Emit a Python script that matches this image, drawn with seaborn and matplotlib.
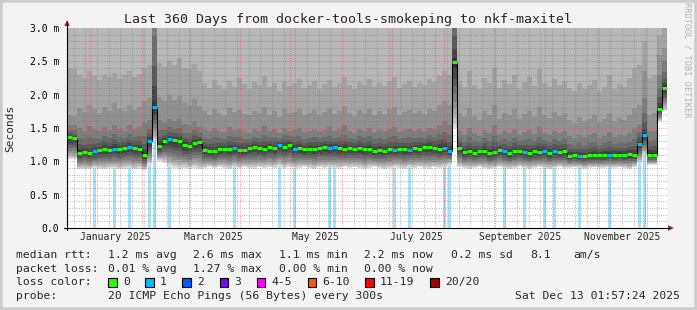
import numpy as np
import pandas as pd
import matplotlib
matplotlib.use("Agg")
import matplotlib.pyplot as plt
import seaborn as sns
from matplotlib.patches import Rectangle, Polygon
from matplotlib.lines import Line2D

# ---------------- data (3-day bins, 360 days ending Sat Dec 13 01:57:24 2025) ----------------
period_end = "2025-12-13 01:57:24"
period_days = 360
bin_days = 3

median_rtt = [
    1.36, 1.35, 1.13, 1.14, 1.12, 1.15, 1.17, 1.18, 1.17, 1.19,
    1.18, 1.20, 1.21, 1.20, 1.19, 1.09, 1.30, 1.81, 1.23, 1.30,
    1.33, 1.32, 1.30, 1.24, 1.23, 1.28, 1.29, 1.17, 1.16, 1.15,
    1.18, 1.19, 1.18, 1.20, 1.17, 1.17, 1.20, 1.21, 1.20, 1.19,
    1.22, 1.20, 1.24, 1.22, 1.25, 1.19, 1.20, 1.18, 1.19, 1.18,
    1.20, 1.21, 1.20, 1.21, 1.20, 1.19, 1.20, 1.19, 1.20, 1.18,
    1.19, 1.16, 1.17, 1.16, 1.18, 1.17, 1.19, 1.18, 1.17, 1.20,
    1.19, 1.21, 1.22, 1.20, 1.19, 1.20, 1.16, 2.49, 1.20, 1.14,
    1.16, 1.13, 1.15, 1.16, 1.13, 1.14, 1.17, 1.15, 1.13, 1.15,
    1.16, 1.14, 1.13, 1.15, 1.14, 1.16, 1.13, 1.15, 1.14, 1.15,
    1.08, 1.10, 1.08, 1.08, 1.09, 1.09, 1.09, 1.10, 1.10, 1.10,
    1.10, 1.10, 1.11, 1.10, 1.26, 1.39, 1.10, 1.10, 1.78, 2.10,
]

# lowest ping of each bin
ping_min = [
    1.03, 1.03, 0.88, 0.89, 0.88, 0.90, 0.89, 0.88, 0.90, 0.89,
    0.88, 0.89, 0.90, 0.88, 0.89, 0.87, 0.95, 1.30, 1.00, 0.98,
    0.92, 0.90, 0.89, 0.90, 0.89, 0.90, 0.88, 0.90, 0.91, 0.90,
    0.91, 0.90, 0.89, 0.91, 0.90, 0.91, 0.90, 0.89, 0.91, 0.90,
    0.91, 0.90, 0.92, 0.90, 0.91, 0.89, 0.90, 0.91, 0.90, 0.89,
    0.91, 0.90, 0.91, 0.90, 0.89, 0.91, 0.90, 0.91, 0.90, 0.89,
    0.90, 0.91, 0.90, 0.89, 0.90, 0.91, 0.90, 0.89, 0.91, 0.90,
    0.91, 0.90, 0.89, 0.91, 0.90, 0.92, 0.95, 1.50, 0.92, 0.90,
    0.89, 0.90, 0.91, 0.90, 0.89, 0.90, 0.91, 0.90, 0.89, 0.90,
    0.91, 0.90, 0.89, 0.90, 0.91, 0.90, 0.89, 0.90, 0.91, 0.90,
    0.90, 0.91, 0.90, 0.89, 0.90, 0.91, 0.90, 0.90, 0.91, 0.90,
    0.91, 0.90, 0.89, 0.92, 0.98, 1.10, 0.95, 0.95, 1.60, 1.75,
]

# 15th ping (of 20, sorted)
ping_15 = [
    1.55, 1.54, 1.50, 1.46, 1.53, 1.48, 1.45, 1.52, 1.47, 1.55,
    1.49, 1.46, 1.54, 1.48, 1.51, 1.58, 1.62, 3.60, 1.62, 1.58,
    1.64, 1.60, 1.63, 1.56, 1.55, 1.60, 1.52, 1.48, 1.45, 1.50,
    1.46, 1.44, 1.52, 1.47, 1.49, 1.45, 1.43, 1.48, 1.46, 1.53,
    1.45, 1.48, 1.42, 1.50, 1.46, 1.47, 1.50, 1.44, 1.46, 1.49,
    1.45, 1.47, 1.51, 1.45, 1.48, 1.54, 1.46, 1.43, 1.49, 1.46,
    1.50, 1.44, 1.47, 1.45, 1.49, 1.52, 1.44, 1.47, 1.49, 1.46,
    1.48, 1.45, 1.50, 1.48, 1.55, 1.60, 1.55, 3.60, 1.45, 1.40,
    1.50, 1.42, 1.38, 1.47, 1.43, 1.55, 1.40, 1.45, 1.42, 1.49,
    1.39, 1.44, 1.47, 1.41, 1.52, 1.43, 1.40, 1.46, 1.42, 1.45,
    1.38, 1.35, 1.40, 1.36, 1.39, 1.43, 1.35, 1.38, 1.44, 1.37,
    1.40, 1.38, 1.42, 1.48, 1.55, 1.95, 1.45, 1.46, 2.30, 2.50,
]

# 16th ping
ping_16 = [
    1.70, 1.68, 1.80, 1.74, 1.85, 1.78, 1.72, 1.82, 1.76, 1.88,
    1.79, 1.75, 1.84, 1.77, 1.81, 1.90, 1.95, 4.00, 1.96, 1.90,
    2.00, 1.92, 1.98, 1.88, 1.85, 1.93, 1.83, 1.75, 1.70, 1.78,
    1.72, 1.68, 1.80, 1.74, 1.77, 1.71, 1.69, 1.76, 1.73, 1.82,
    1.70, 1.75, 1.67, 1.79, 1.72, 1.74, 1.78, 1.69, 1.73, 1.77,
    1.70, 1.74, 1.80, 1.71, 1.76, 1.83, 1.72, 1.68, 1.77, 1.73,
    1.79, 1.70, 1.75, 1.71, 1.78, 1.81, 1.69, 1.74, 1.77, 1.72,
    1.75, 1.71, 1.79, 1.76, 1.84, 1.90, 1.85, 4.00, 1.72, 1.66,
    1.80, 1.68, 1.62, 1.75, 1.70, 1.85, 1.64, 1.73, 1.69, 1.78,
    1.63, 1.71, 1.76, 1.67, 1.82, 1.70, 1.65, 1.74, 1.68, 1.72,
    1.62, 1.58, 1.66, 1.60, 1.64, 1.70, 1.59, 1.63, 1.72, 1.61,
    1.65, 1.62, 1.70, 1.80, 1.85, 2.35, 1.70, 1.72, 2.60, 2.70,
]

# 17th ping
ping_17 = [
    2.40, 2.38, 2.30, 2.25, 2.35, 2.28, 2.22, 2.30, 2.26, 2.33,
    2.24, 2.29, 2.36, 2.27, 2.31, 2.40, 2.45, 4.00, 2.48, 2.42,
    2.50, 2.44, 2.55, 2.40, 2.38, 2.46, 2.35, 2.18, 2.10, 2.22,
    2.15, 2.08, 2.20, 2.12, 2.25, 2.16, 2.09, 2.19, 2.14, 2.28,
    2.11, 2.17, 2.06, 2.21, 2.13, 2.18, 2.24, 2.10, 2.15, 2.20,
    2.08, 2.16, 2.22, 2.12, 2.18, 2.27, 2.14, 2.09, 2.19, 2.15,
    2.23, 2.11, 2.17, 2.13, 2.20, 2.26, 2.10, 2.16, 2.21, 2.12,
    2.18, 2.14, 2.24, 2.19, 2.28, 2.35, 2.30, 4.00, 2.20, 2.12,
    2.35, 2.15, 2.08, 2.25, 2.18, 2.40, 2.10, 2.22, 2.16, 2.30,
    2.09, 2.19, 2.26, 2.13, 2.38, 2.17, 2.11, 2.24, 2.15, 2.20,
    2.10, 2.05, 2.18, 2.08, 2.14, 2.22, 2.06, 2.12, 2.30, 2.09,
    2.16, 2.11, 2.25, 2.40, 2.45, 2.80, 2.25, 2.30, 2.90, 3.00,
]

# lost pings per bin (of 20)
lost_pings = [
    0, 0, 0, 0, 0, 1, 0, 0, 0, 1, 0, 0, 1, 0, 0, 0, 1, 1, 0, 0,
    1, 0, 0, 0, 0, 0, 0, 0, 0, 0, 0, 0, 0, 1, 0, 0, 0, 0, 0, 0,
    0, 0, 1, 0, 0, 1, 0, 0, 0, 0, 0, 0, 1, 1, 0, 0, 0, 0, 0, 0,
    0, 0, 0, 0, 0, 1, 0, 0, 1, 0, 0, 0, 0, 0, 0, 1, 1, 0, 0, 0,
    0, 0, 0, 0, 0, 0, 0, 1, 0, 0, 0, 1, 0, 0, 0, 1, 0, 1, 0, 0,
    0, 0, 1, 0, 0, 0, 0, 0, 1, 0, 0, 0, 0, 0, 1, 1, 0, 0, 0, 0,
]

title = "Last 360 Days from docker-tools-smokeping to nkf-maxitel"
y_tick_values = [0.0, 0.5, 1.0, 1.5, 2.0, 2.5, 3.0]
y_tick_labels = ["0.0", "0.5 m", "1.0 m", "1.5 m", "2.0 m", "2.5 m", "3.0 m"]
x_label_months = ["2025-01", "2025-03", "2025-05", "2025-07", "2025-09", "2025-11"]
x_label_texts = ["January 2025", "March 2025", "May 2025", "July 2025",
                 "September 2025", "November 2025"]

stats_rtt = ["median rtt:", "1.2 ms avg", "2.6 ms max", "1.1 ms min",
             "2.2 ms now", "0.2 ms sd", "8.1", "am/s"]
stats_loss = ["packet loss:", "0.01 % avg", "1.27 % max", "0.00 % min", "0.00 % now"]
loss_labels = ["0", "1", "2", "3", "4-5", "6-10", "11-19", "20/20"]
loss_colors = ["#26ff00", "#00b8ff", "#0059ff", "#7e00ff", "#ff00ff", "#ff5500", "#ff0000", "#a10000"]
probe_text = "20 ICMP Echo Pings (56 Bytes) every 300s"
stamp_text = "Sat Dec 13 01:57:24 2025"

# ---------------- styling constants ----------------
W, H = 697, 310
L, R, T, B = 67, 667, 28, 228
YMAX = 3.0
MONO = "DejaVu Sans Mono"

sns.set_style("white")
plt.rcParams["font.family"] = [MONO, "DejaVu Sans"]

n = len(median_rtt)
for arr in (ping_min, ping_15, ping_16, ping_17, lost_pings):
    assert len(arr) == n, len(arr)

med = np.array(median_rtt)
p1 = np.array(ping_min)
lost = np.array(lost_pings)

end_ts = pd.Timestamp(period_end)
start_ts = end_ts - pd.Timedelta(days=period_days)


def day_of(ts):
    return (pd.Timestamp(ts) - start_ts).total_seconds() / 86400.0


edges = np.arange(n + 1) * bin_days
centers = edges[:-1] + bin_days / 2.0


def ext(a):
    return np.append(a, a[-1])


def fx(x):
    return x / W


def fy(y):
    return 1 - y / H


fig = plt.figure(figsize=(W / 100, H / 100), dpi=100, facecolor="#F3F3F3")
ax = fig.add_axes([fx(L), fy(B), (R - L) / W, (B - T) / H])
ax.set_facecolor("white")
ax.set_xlim(0, period_days)
ax.set_ylim(0, YMAX)
for s in ax.spines.values():
    s.set_visible(False)

# loss bars under the smoke
ax.bar(centers[lost > 0], YMAX, width=1.5, color="#a4e2f8", lw=0, zorder=1)

# smoke: SmokePing-like bands, ping k .. ping 21-k
low_frac = [0.06, 0.13, 0.21, 0.30, 0.40, 0.51, 0.63, 0.76, 0.90]   # gradient p2..p10
up_frac = [0.06, 0.18, 0.35, 0.60]                                   # gradient p11..p14
p15 = np.array(ping_15)
pings = {1: p1}
for j, f in zip(range(2, 11), low_frac):
    pings[j] = p1 + f * (med - p1)
for j, f in zip(range(11, 15), up_frac):
    pings[j] = med + f * (p15 - med)
pings[15] = p15
pings[16] = np.array(ping_16)
pings[17] = np.array(ping_17)


def band_grey(k):
    g = (int(190 / 10 * (10 - k)) + 50) / 255.0
    return (g, g, g)


for k in range(1, 11):
    lo = ext(pings[k])
    top_idx = 21 - k
    hi = ext(pings[top_idx]) if top_idx in pings else YMAX + 0.1
    ax.fill_between(edges, lo, hi, step="post", color=band_grey(k), lw=0, zorder=2)

# grid (drawn over the smoke like rrdtool)
minor_c = (0.45, 0.45, 0.45, 0.45)
major_c = (1.0, 0.25, 0.25, 0.5)
dots = (0, (1, 1.2))
for i in range(1, 30):
    v = i / 10.0
    if i % 5 == 0:
        ax.axhline(v, color=major_c, lw=0.75, ls=dots, zorder=3)
    else:
        ax.axhline(v, color=minor_c, lw=0.75, ls=dots, zorder=3)
weeks = pd.date_range(start_ts.normalize(), end_ts, freq="W-SUN")
months = pd.date_range("2025-01-01", end_ts, freq="MS")
for w in weeks:
    d = day_of(w)
    if 0 < d < period_days and w.day != 1:
        ax.axvline(d, color=minor_c, lw=0.75, ls=dots, zorder=3)
month_days = [day_of(m) for m in months]
for d in month_days:
    ax.axvline(d, color=major_c, lw=0.75, ls=dots, zorder=3)

# median: black step line plus loss-coloured marks
sns.lineplot(x=edges, y=ext(med), drawstyle="steps-post", color="black", lw=0.8,
             ax=ax, zorder=5, legend=False, estimator=None, sort=False)


def loss_idx(c):
    if c <= 3:
        return int(c)
    if c <= 5:
        return 4
    if c <= 10:
        return 5
    if c <= 19:
        return 6
    return 7


seg_colors = [loss_colors[loss_idx(c)] for c in lost]
ax.hlines(med, edges[:-1], edges[1:], colors=seg_colors, lw=2.2, zorder=6)

# ticks
ax.set_yticks(y_tick_values, labels=y_tick_labels)
ax.set_yticks(np.arange(0.1, 3.0, 0.1), minor=True)
ax.set_xticks(month_days, labels=[""] * len(month_days))
ax.set_xticks([], minor=True)
ax.tick_params(axis="y", which="major", length=2.5, width=0.7, pad=3.2, labelsize=7,
               direction="out", colors="black")
ax.tick_params(axis="y", which="minor", length=1.5, width=0.7, direction="out")
ax.tick_params(axis="x", which="major", length=2.2, width=0.7, direction="out")
ax.set_xlabel("")
ax.set_ylabel("")
for lab in ax.get_yticklabels():
    lab.set_family(MONO)

for m, txt in zip(x_label_months, x_label_texts):
    d = day_of(pd.Timestamp(m + "-16"))
    ax.text(d, -9.5 / (B - T), txt, transform=ax.get_xaxis_transform(), ha="center",
            va="center", fontsize=7, family=MONO)

# axis lines with arrows
fig.add_artist(Line2D([fx(L), fx(L)], [fy(B + 2), fy(22)], color="black", lw=0.8))
fig.add_artist(Line2D([fx(L - 3), fx(670)], [fy(B), fy(B)], color="black", lw=0.8))
fig.add_artist(Polygon([[fx(L - 2.8), fy(26)], [fx(L + 2.8), fy(26)], [fx(L), fy(20)]],
                       closed=True, transform=fig.transFigure, color="#a32b2b", lw=0))
fig.add_artist(Polygon([[fx(668), fy(B - 2.8)], [fx(668), fy(B + 2.8)], [fx(674), fy(B)]],
                       closed=True, transform=fig.transFigure, color="#a32b2b", lw=0))

# texts
fig.text(fx(348.5), fy(19), title, ha="center", va="center", fontsize=9.5, family=MONO)
fig.text(fx(10), fy(128), "Seconds", rotation=90, ha="center", va="center",
         fontsize=8, family=MONO)
fig.text(fx(687), fy(60), "RRDTOOL / TOBI OETIKER", rotation=-90, ha="center",
         va="center", fontsize=6.2, family=MONO, color="#b4b4b4")

LEG_FS = 8.2
row1_x = [16, 107.5, 193, 279, 364, 451, 530, 573]
for txt, x in zip(stats_rtt, row1_x):
    fig.text(fx(x), fy(255), txt, ha="left", va="center", fontsize=LEG_FS, family=MONO)
row2_x = [16, 107.5, 193, 279, 364]
for txt, x in zip(stats_loss, row2_x):
    fig.text(fx(x), fy(268.5), txt, ha="left", va="center", fontsize=LEG_FS, family=MONO)

fig.text(fx(16), fy(282), "loss color:", ha="left", va="center", fontsize=LEG_FS, family=MONO)
sq_x = [108, 145, 182, 219.5, 256.5, 307.5, 365, 430]
for x, c, lab in zip(sq_x, loss_colors, loss_labels):
    fig.add_artist(Rectangle((fx(x), fy(286.5)), 8.5 / W, 8.5 / H, transform=fig.transFigure,
                             facecolor=c, edgecolor="black", lw=0.8))
    fig.text(fx(x + 15), fy(282), lab, ha="left", va="center", fontsize=LEG_FS, family=MONO)

fig.text(fx(16), fy(296), "probe:", ha="left", va="center", fontsize=LEG_FS, family=MONO)
fig.text(fx(107.5), fy(296), probe_text, ha="left", va="center", fontsize=LEG_FS, family=MONO)
fig.text(fx(680), fy(296), stamp_text, ha="right", va="center", fontsize=LEG_FS, family=MONO)

# frame
fig.add_artist(Rectangle((0, 0), 1, 1, transform=fig.transFigure, fill=False,
                         edgecolor="#cdcdcd", lw=4))

fig.savefig("out.png", dpi=100, facecolor=fig.get_facecolor())
